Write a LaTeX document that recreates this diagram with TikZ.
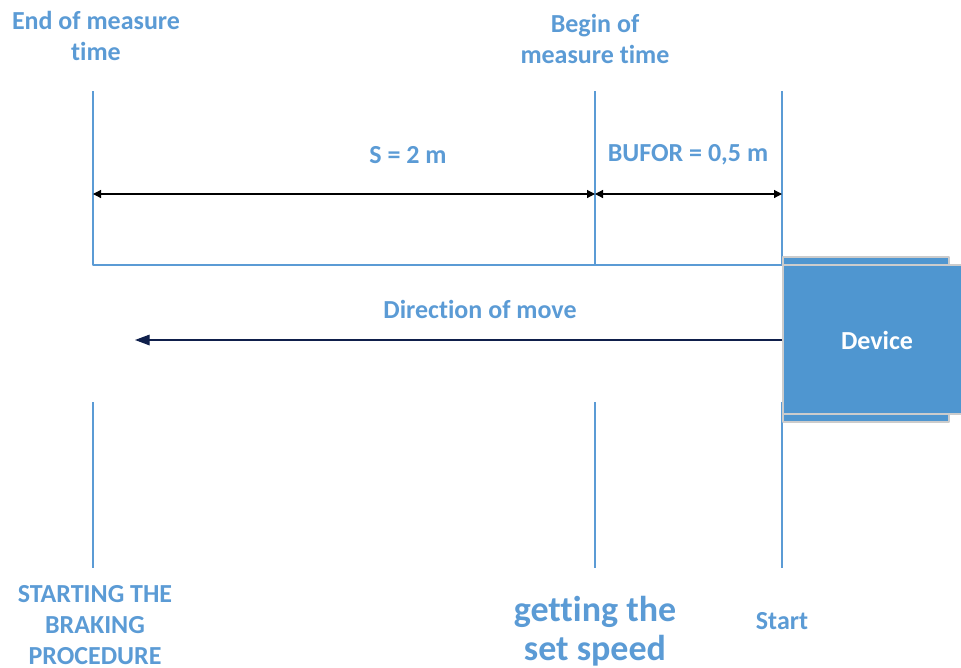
\documentclass[tikz,border=0pt]{standalone}
\usepackage{fontspec}
\setmainfont{Carlito}[Ligatures=NoCommon]
\usetikzlibrary{arrows.meta}
\definecolor{lblue}{HTML}{5B9BD5}
\definecolor{devblue}{HTML}{4F96D0}
\definecolor{navy}{HTML}{0F1F4B}
\begin{document}
\begin{tikzpicture}[
		x=0.75pt,
		y=-0.75pt,
		line join=round,
		markline/.style={draw=lblue, line width=0.9pt},
		dim/.style={{Triangle[length=6pt,width=6pt]}-{Triangle[length=6pt,width=6pt]}, black, line width=0.9pt},
		lbl/.style={text=lblue, font=\bfseries\fontsize{19.5}{23.5}\selectfont, align=center, inner sep=0pt},
		big/.style={text=lblue, font=\bfseries\fontsize{27}{29}\selectfont, align=center, inner sep=0pt},
		box/.style={draw=black!20, fill=devblue, line width=0.9pt}
	]

	\useasboundingbox (0,0) rectangle (961,668);

	% Marker lines
	\coordinate (endT) at (93,91);
	\coordinate (endM) at (93,265);
	\coordinate (endL) at (93,402);
	\coordinate (endB) at (93,568);
	\coordinate (begT) at (595,91);
	\coordinate (begM) at (595,265);
	\coordinate (begL) at (595,402);
	\coordinate (begB) at (595,568);
	\coordinate (stT) at (782,91);
	\coordinate (stM) at (782,265);
	\coordinate (stL) at (782,402);
	\coordinate (stB) at (782,568);

	\draw[markline] (endT) -- (endM) -- (stM);
	\draw[markline] (begT) -- (begM);
	\draw[markline] (stT) -- (stM);
	\draw[markline] (endL) -- (endB);
	\draw[markline] (begL) -- (begB);
	\draw[markline] (stL) -- (stB);

	% Distances
	\coordinate (dEnd) at (93,194);
	\coordinate (dBeg) at (595,194);
	\coordinate (dSt) at (782,194);
	\draw[dim] (dEnd) -- (dBeg);
	\draw[dim] (dBeg) -- (dSt);
	\node[lbl] (dist) at (408,155) {S = 2 m};
	\node[lbl] (bufor) at (688,155) {BUFOR = 0,5 m};

	% Device
	\draw[box] (783,257) rectangle (949,422);
	\draw[box] (783,265) rectangle (963,414);
	\node[text=white, font=\bfseries\fontsize{19.5}{23.5}\selectfont] (dev) at (877,340) {Device};

	% Direction
	\coordinate (moveS) at (782,340);
	\coordinate (moveE) at (135,340);
	\draw[-{Triangle[length=11pt,width=8pt]}, navy, line width=0.9pt] (moveS) -- (moveE);
	\node[lbl] (dir) at (480,309) {Direction of move};

	% Labels
	\node[lbl] (endlbl) at (96,36) {End of measure\\time};
	\node[lbl] (beglbl) at (595,39) {Begin of\\measure time};
	\node[lbl] (brake) at (95,625) {STARTING THE\\BRAKING\\PROCEDURE};
	\node[big] (speed) at (595,631) {getting the\\set speed};
	\node[lbl] (start) at (782,621) {Start};

\end{tikzpicture}
\end{document}
